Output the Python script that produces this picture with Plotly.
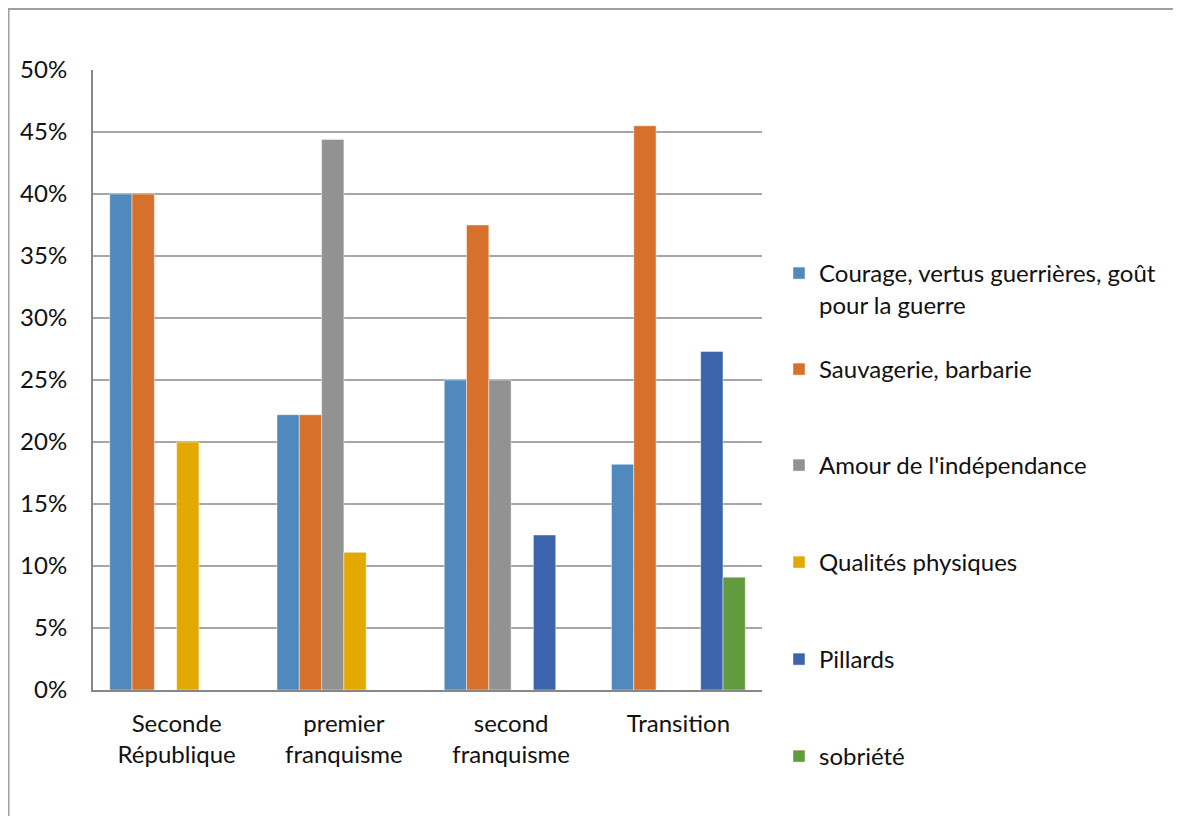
import plotly.graph_objects as go

categories = ["Seconde<br>République", "premier<br>franquisme", "second<br>franquisme", "Transition"]

series_names = [
    "Courage, vertus guerrières, goût<br>pour la guerre",
    "Sauvagerie, barbarie",
    "Amour de l'indépendance",
    "Qualités physiques",
    "Pillards",
    "sobriété",
]

courage = [0.40, 0.222, 0.25, 0.182]
sauvagerie = [0.40, 0.222, 0.375, 0.455]
amour = [0.0, 0.444, 0.25, 0.0]
qualites = [0.20, 0.111, 0.0, 0.0]
pillards = [0.0, 0.0, 0.125, 0.273]
sobriete = [0.0, 0.0, 0.0, 0.091]

values = [courage, sauvagerie, amour, qualites, pillards, sobriete]
colors = ["#4F89BD", "#D6702B", "#929292", "#E3A900", "#3C64AD", "#629A3E"]

OFF = 8  # page body margin offset
W, H = 1181 - OFF, 816 - OFF
L, R, T, B = 93 - OFF, 762 - OFF, 70 - OFF, 690 - OFF  # plot area in figure px

FONT = "Lato"
FS = 24
TXT = "#111111"

fig = go.Figure()
legend_keys = ["legend", "legend2", "legend3", "legend4", "legend5", "legend6"]
for name, vals, col, lk in zip(series_names, values, colors, legend_keys):
    fig.add_trace(go.Bar(
        x=categories, y=vals, name=name,
        marker=dict(color=col, line=dict(color="rgba(255,255,255,0.45)", width=1)),
        legend=lk,
    ))

# legend entry first-line centers (page px) from reference
legend_centers = [273, 369, 465, 562, 659, 756]
legend_x = (779 - OFF - L) / (R - L)
layout_legends = {}
for lk, cy in zip(legend_keys, legend_centers):
    layout_legends[lk] = dict(
        x=legend_x, xanchor="left",
        y=(B - (cy - OFF - 22)) / (B - T), yanchor="top",
        bgcolor="rgba(0,0,0,0)",
        font=dict(family=FONT, size=FS, color=TXT),
        valign="top",
        borderwidth=0,
    )

fig.update_layout(
    width=W, height=H,
    margin=dict(l=L, r=W - R, t=T, b=H - B, pad=0),
    paper_bgcolor="white", plot_bgcolor="white",
    barmode="group", bargap=0.2, bargroupgap=0,
    font=dict(family=FONT, size=FS, color=TXT),
    showlegend=True,
    **layout_legends,
    xaxis=dict(
        showline=True, linecolor="#878787", linewidth=2,
        ticks="", showgrid=False,
        tickfont=dict(family=FONT, size=FS, color=TXT),
        ticklabelstandoff=11,
    ),
    yaxis=dict(
        range=[0, 0.5], dtick=0.05, tickformat=".0%",
        showline=True, linecolor="#878787", linewidth=2,
        showgrid=True, gridcolor="#A6A6A6", gridwidth=1.5,
        zeroline=False, ticks="",
        tickfont=dict(family=FONT, size=FS, color=TXT),
        ticklabelstandoff=19,
    ),
    shapes=[
        dict(type="line", xref="paper", yref="paper",
             x0=(0 - L) / (R - L), x1=(W + 10 - L) / (R - L),
             y0=(B - 1) / (B - T), y1=(B - 1) / (B - T),
             line=dict(color="#A0A0A0", width=2), layer="below"),
        dict(type="line", xref="paper", yref="paper",
             x0=(0.5 - L) / (R - L), x1=(0.5 - L) / (R - L),
             y0=(B - 1) / (B - T), y1=(B - H - 10) / (B - T),
             line=dict(color="#A0A0A0", width=2), layer="below"),
    ],
)

fig.write_html("out.html")
